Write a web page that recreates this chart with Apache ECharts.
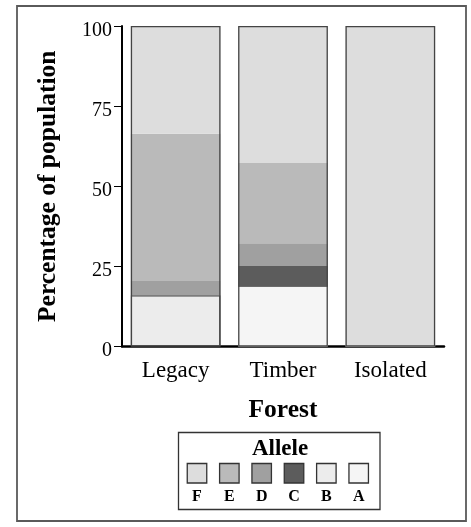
<!DOCTYPE html>
<html>
<head>
<meta charset="utf-8">
<script src="https://cdn.jsdelivr.net/npm/echarts@6/dist/echarts.min.js"></script>
<style>
html,body{margin:0;padding:0;background:#fff;}
#chart{width:471px;height:527px;}
</style>
</head>
<body>
<div id="chart"></div>
<script>
// ---- data ----
const categories = ['Legacy', 'Timber', 'Isolated'];
const stackOrder = ['A', 'B', 'C', 'D', 'E', 'F'];      // bottom -> top
const legendOrder = ['F', 'E', 'D', 'C', 'B', 'A'];
const valuesA = [0, 18.8, 0];
const valuesB = [16.0, 0, 0];
const valuesC = [0, 6.3, 0];
const valuesD = [4.4, 7.1, 0];
const valuesE = [46.0, 25.2, 0];
const valuesF = [33.6, 42.6, 100];
const yTicks = [0, 25, 50, 75, 100];
const xTitle = 'Forest';
const yTitle = 'Percentage of population';
const legendTitle = 'Allele';

// ---- styles ----
const FONT = '"Liberation Serif", "Times New Roman", serif';
const fills = { A: '#f5f5f5', B: '#ececec', C: '#5c5c5c', D: '#a0a0a0', E: '#bababa', F: '#dddddd' };
const valuesBy = { A: valuesA, B: valuesB, C: valuesC, D: valuesD, E: valuesE, F: valuesF };

const totals = categories.map((_, i) => stackOrder.reduce((s, k) => s + valuesBy[k][i], 0));

const series = stackOrder.map(k => ({
  name: k, type: 'bar', stack: 'all', data: valuesBy[k],
  barCategoryGap: '16.4%',
  itemStyle: k === 'B' ? { color: fills[k], borderColor: '#444', borderWidth: 1.2 } : { color: fills[k] },
  silent: true
}));
series.push({
  name: 'outline', type: 'bar', data: totals, barGap: '-100%', z: 5,
  itemStyle: { color: 'rgba(0,0,0,0)', borderColor: '#444', borderWidth: 1.3 },
  silent: true
});

const graphic = [
  { type: 'rect', shape: { x: 17, y: 6, width: 449, height: 515 },
    style: { fill: 'none', stroke: '#5a5a5a', lineWidth: 1.8 } },
  { type: 'rect', shape: { x: 178.5, y: 432.5, width: 201.5, height: 77 },
    style: { fill: 'none', stroke: '#333', lineWidth: 1.3 } },
  { type: 'text', style: { text: legendTitle, x: 280, y: 449, align: 'center', verticalAlign: 'middle',
    font: 'bold 23px ' + FONT, fill: '#000' } }
];
legendOrder.forEach((k, i) => {
  const cx = 197 + i * 32.34;
  graphic.push({ type: 'rect', shape: { x: cx - 9.75, y: 463.5, width: 19.5, height: 19.5 },
    style: { fill: fills[k], stroke: '#333', lineWidth: 1.3 } });
  graphic.push({ type: 'text', style: { text: k, x: cx, y: 497, align: 'center', verticalAlign: 'middle',
    font: 'bold 16px ' + FONT, fill: '#000' } });
});

const chart = echarts.init(document.getElementById('chart'), null, { renderer: 'canvas' });
chart.setOption({
  backgroundColor: '#fff',
  animation: false,
  grid: { left: 122, top: 26, width: 322, height: 320.5, containLabel: false },
  xAxis: {
    type: 'category', data: categories,
    name: xTitle, nameLocation: 'middle', nameGap: 51,
    nameTextStyle: { fontFamily: FONT, fontWeight: 'bold', fontSize: 25.5, color: '#000' },
    axisLine: { lineStyle: { color: '#000', width: 2.5 } },
    axisTick: { alignWithLabel: true, length: 9, lineStyle: { color: '#000', width: 1 } },
    axisLabel: { fontFamily: FONT, fontSize: 23, color: '#000', margin: 13 },
    splitLine: { show: false }
  },
  yAxis: {
    type: 'value', min: yTicks[0], max: yTicks[yTicks.length - 1], interval: yTicks[1] - yTicks[0],
    name: yTitle, nameLocation: 'middle', nameGap: 61,
    nameTextStyle: { fontFamily: FONT, fontWeight: 'bold', fontSize: 25.5, color: '#000' },
    axisLine: { show: true, lineStyle: { color: '#000', width: 2 } },
    axisTick: { show: true, length: 8, lineStyle: { color: '#000', width: 1 } },
    axisLabel: { fontFamily: FONT, fontSize: 20, color: '#000', margin: 10,
      verticalAlign: 'top', lineHeight: 9 },
    splitLine: { show: false }
  },
  series: series,
  graphic: graphic
});
</script>
</body>
</html>
